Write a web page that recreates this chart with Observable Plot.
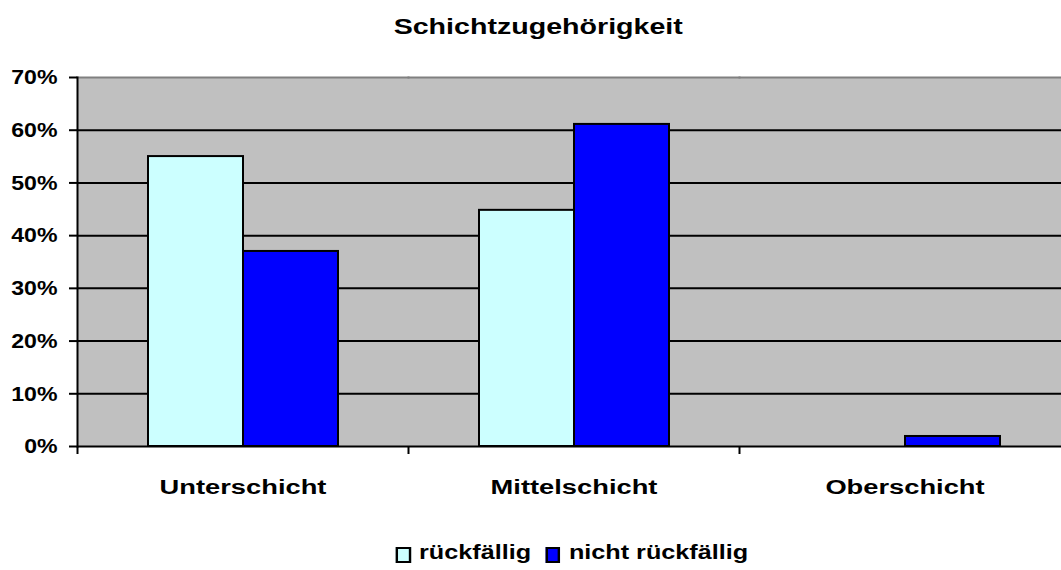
<!DOCTYPE html>
<html>
<head>
<meta charset="utf-8">
<script src="https://cdn.jsdelivr.net/npm/d3@7"></script>
<script src="https://cdn.jsdelivr.net/npm/@observablehq/plot@0.6"></script>
<style>
  body { margin: 0; background: #fff; }
  #wrap { width: 1061px; height: 570px; position: relative; overflow: hidden; font-family: "Liberation Sans", Arial, sans-serif; color: #000; }
  #title { width: 1061px; height: 60px; box-sizing: border-box; padding-top: 15px; padding-left: 15px; text-align: center; font-weight: bold; font-size: 22px; line-height: 24px; }
  #title span { display: inline-block; transform: scaleX(1.3); }
  #chart { width: 1061px; height: 450px; overflow: hidden; }
  #chart svg { display: block; max-width: none !important; width: 1070px !important; height: 450px !important; }
  #legend { width: 1061px; box-sizing: border-box; margin-top: 30px; padding-left: 82px; text-align: center; height: 24px; }
  #legend .inner { display: inline-flex; align-items: center; transform: scaleX(1.2); font-weight: bold; font-size: 21px; line-height: 24px; }
  #legend .item { display: inline-flex; align-items: center; }
  #legend .item + .item { margin-left: 12px; }
  #legend .sw { width: 12.5px; height: 16px; box-sizing: border-box; border: 2px solid #000; margin-right: 7px; position: relative; top: 3px; }
</style>
</head>
<body>
<div id="wrap">
  <div id="title"><span></span></div>
  <div id="chart"></div>
  <div id="legend"><div class="inner"></div></div>
</div>
<script>
const title = "Schichtzugehörigkeit";
const categories = ["Unterschicht", "Mittelschicht", "Oberschicht"];
const series = ["rückfällig", "nicht rückfällig"];
const rueckfaellig = [55, 44.8, 0];
const nichtRueckfaellig = [37, 61.1, 1.9];
const yTicks = [0, 10, 20, 30, 40, 50, 60, 70];
const colors = ["#CCFFFF", "#0000FF"];

const data = categories.flatMap((c, i) => [
  {cat: c, series: series[0], value: rueckfaellig[i]},
  {cat: c, series: series[1], value: nichtRueckfaellig[i]}
]);

// the plot area runs past the right edge of the 1061px picture, as in the original
const W = 1070, H = 450, ML = 77, MR = 0, MT = 17, MB = 64;
const half = (W - ML - MR) / categories.length / 2;

const chart = Plot.plot({
  width: W, height: H,
  marginLeft: ML, marginRight: MR, marginTop: MT, marginBottom: MB,
  style: {fontFamily: "'Liberation Sans', Arial, sans-serif", background: "white", color: "black"},
  fx: {domain: categories, padding: 0, label: null},
  x: {domain: series, paddingInner: 0, paddingOuter: 0.742, axis: null},
  y: {domain: [0, 70], label: null},
  color: {domain: series, range: colors},
  marks: [
    Plot.frame({fill: "#C0C0C0", shapeRendering: "crispEdges"}),
    Plot.gridY(yTicks.slice(0, -1), {stroke: "black", strokeOpacity: 1, strokeWidth: 2}),
    Plot.frame({anchor: "top", stroke: "#808080", strokeWidth: 2}),
    Plot.barY(data, {fx: "cat", x: "series", y: "value", fill: "series", stroke: "black", strokeWidth: 2}),
    Plot.frame({anchor: "left", stroke: "black", strokeWidth: 2, facetAnchor: "left"}),
    Plot.axisY(yTicks, {tickSize: 8, tickPadding: 12, tickFormat: d => d + "%", fontSize: 21, fontWeight: "bold", strokeWidth: 2, label: null}),
    Plot.axisFx({anchor: "bottom", tickSize: 0, tickPadding: 33, fontSize: 21, fontWeight: "bold", label: null}),
    Plot.axisFx({anchor: "bottom", tickSize: 8, tickFormat: () => "", dx: -half, strokeWidth: 2, label: null})
  ]
});

function stretch(sel, s) {
  chart.querySelectorAll(sel).forEach(t => {
    const tr = t.getAttribute("transform");
    if (tr) t.setAttribute("transform", tr + ` scale(${s},1)`);
    else {
      const x = +t.getAttribute("x") || 0, y = +t.getAttribute("y") || 0;
      t.setAttribute("transform", `translate(${x},${y}) scale(${s},1) translate(${-x},${-y})`);
    }
  });
}
stretch('g[aria-label="y-axis tick label"] text', 1.1);
stretch('g[aria-label="fx-axis tick label"] text', 1.3);

document.getElementById("chart").appendChild(chart);
document.querySelector("#title span").textContent = title;

const inner = document.querySelector("#legend .inner");
series.forEach((s, i) => {
  const item = document.createElement("span");
  item.className = "item";
  const sw = document.createElement("span");
  sw.className = "sw";
  sw.style.background = colors[i];
  const lab = document.createElement("span");
  lab.textContent = s;
  item.appendChild(sw);
  item.appendChild(lab);
  inner.appendChild(item);
});
</script>
</body>
</html>
